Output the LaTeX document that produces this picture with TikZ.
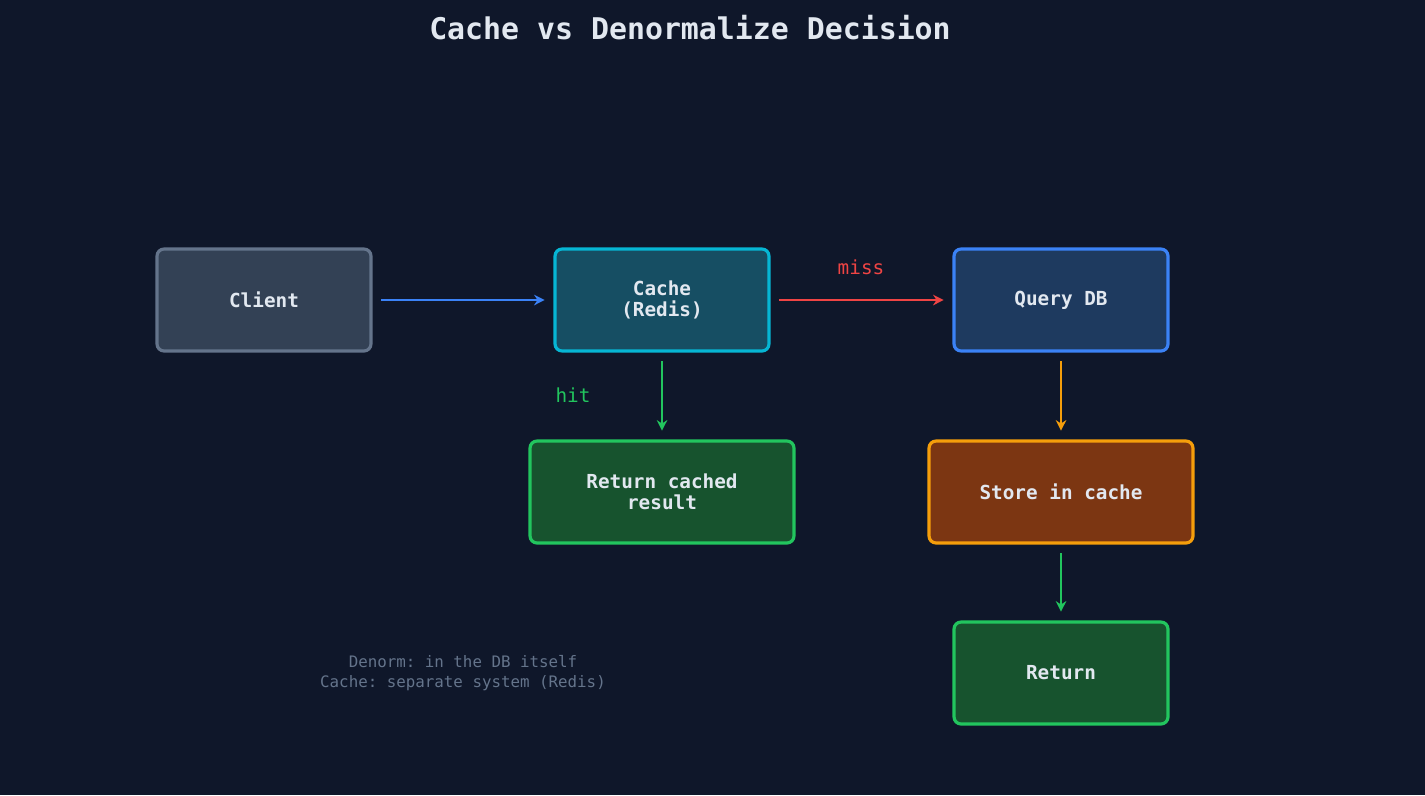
\documentclass[tikz,border=0pt]{standalone}
\usepackage{fontspec}
\setmonofont{DejaVu Sans Mono}
\usetikzlibrary{arrows.meta}
\definecolor{bg}{HTML}{0F172A}
\definecolor{txt}{HTML}{E2E8F0}
\definecolor{muted}{HTML}{64748B}
\definecolor{clientfill}{HTML}{334155}
\definecolor{cachefill}{HTML}{164E63}
\definecolor{cacheline}{HTML}{06B6D4}
\definecolor{dbfill}{HTML}{1E3A5F}
\definecolor{dbline}{HTML}{3B82F6}
\definecolor{okfill}{HTML}{17532E}
\definecolor{okline}{HTML}{22C55E}
\definecolor{storefill}{HTML}{7C3612}
\definecolor{storeline}{HTML}{F59E0B}
\definecolor{missline}{HTML}{EF4444}
\tikzset{
  box/.style={draw, line width=1.8pt, rounded corners=4pt, minimum height=2.04cm,
    minimum width=4.28cm, align=center, text=txt, font=\ttfamily\bfseries\fontsize{11}{12}\selectfont},
  wide/.style={box, minimum width=5.28cm},
  flow/.style={-{Stealth[length=6pt,width=6pt]}, line width=1.6pt, shorten >=5pt, shorten <=5pt},
  tag/.style={font=\ttfamily\fontsize{11}{12}\selectfont}
}
\begin{document}
\begin{tikzpicture}[x=0.02cm, y=-0.02cm]
\fill[bg] (0,0) rectangle (1425,795);
\useasboundingbox (0,0) rectangle (1425,795);
\node (title) at (690,28) [text=txt, font=\ttfamily\bfseries\fontsize{17}{20}\selectfont] {Cache vs Denormalize Decision};
\node (client) at (264,300) [box, fill=clientfill, draw=muted] {Client};
\node (cache)  at (662,300) [box, fill=cachefill, draw=cacheline] {Cache\\(Redis)};
\node (query)  at (1061,300) [box, fill=dbfill, draw=dbline] {Query DB};
\node (cached) at (662,492) [wide, fill=okfill, draw=okline] {Return cached\\result};
\node (store)  at (1061,492) [wide, fill=storefill, draw=storeline] {Store in cache};
\node (ret)    at (1061,673) [box, fill=okfill, draw=okline] {Return};
\draw [flow, draw=dbline] (client) -- (cache);
\draw [flow, draw=missline] (cache) -- (query);
\draw [flow, draw=okline] (cache) -- (cached);
\draw [flow, draw=storeline] (query) -- (store);
\draw [flow, draw=okline] (store) -- (ret);
\node (miss) at (861,267) [tag, text=missline] {miss};
\node (hit) at (573,395) [tag, text=okline] {hit};
\node (note) at (463,673) [align=center, text=muted, font=\ttfamily\fontsize{9}{11.5}\selectfont] {Denorm: in the DB itself\\Cache: separate system (Redis)};
\end{tikzpicture}
\end{document}
